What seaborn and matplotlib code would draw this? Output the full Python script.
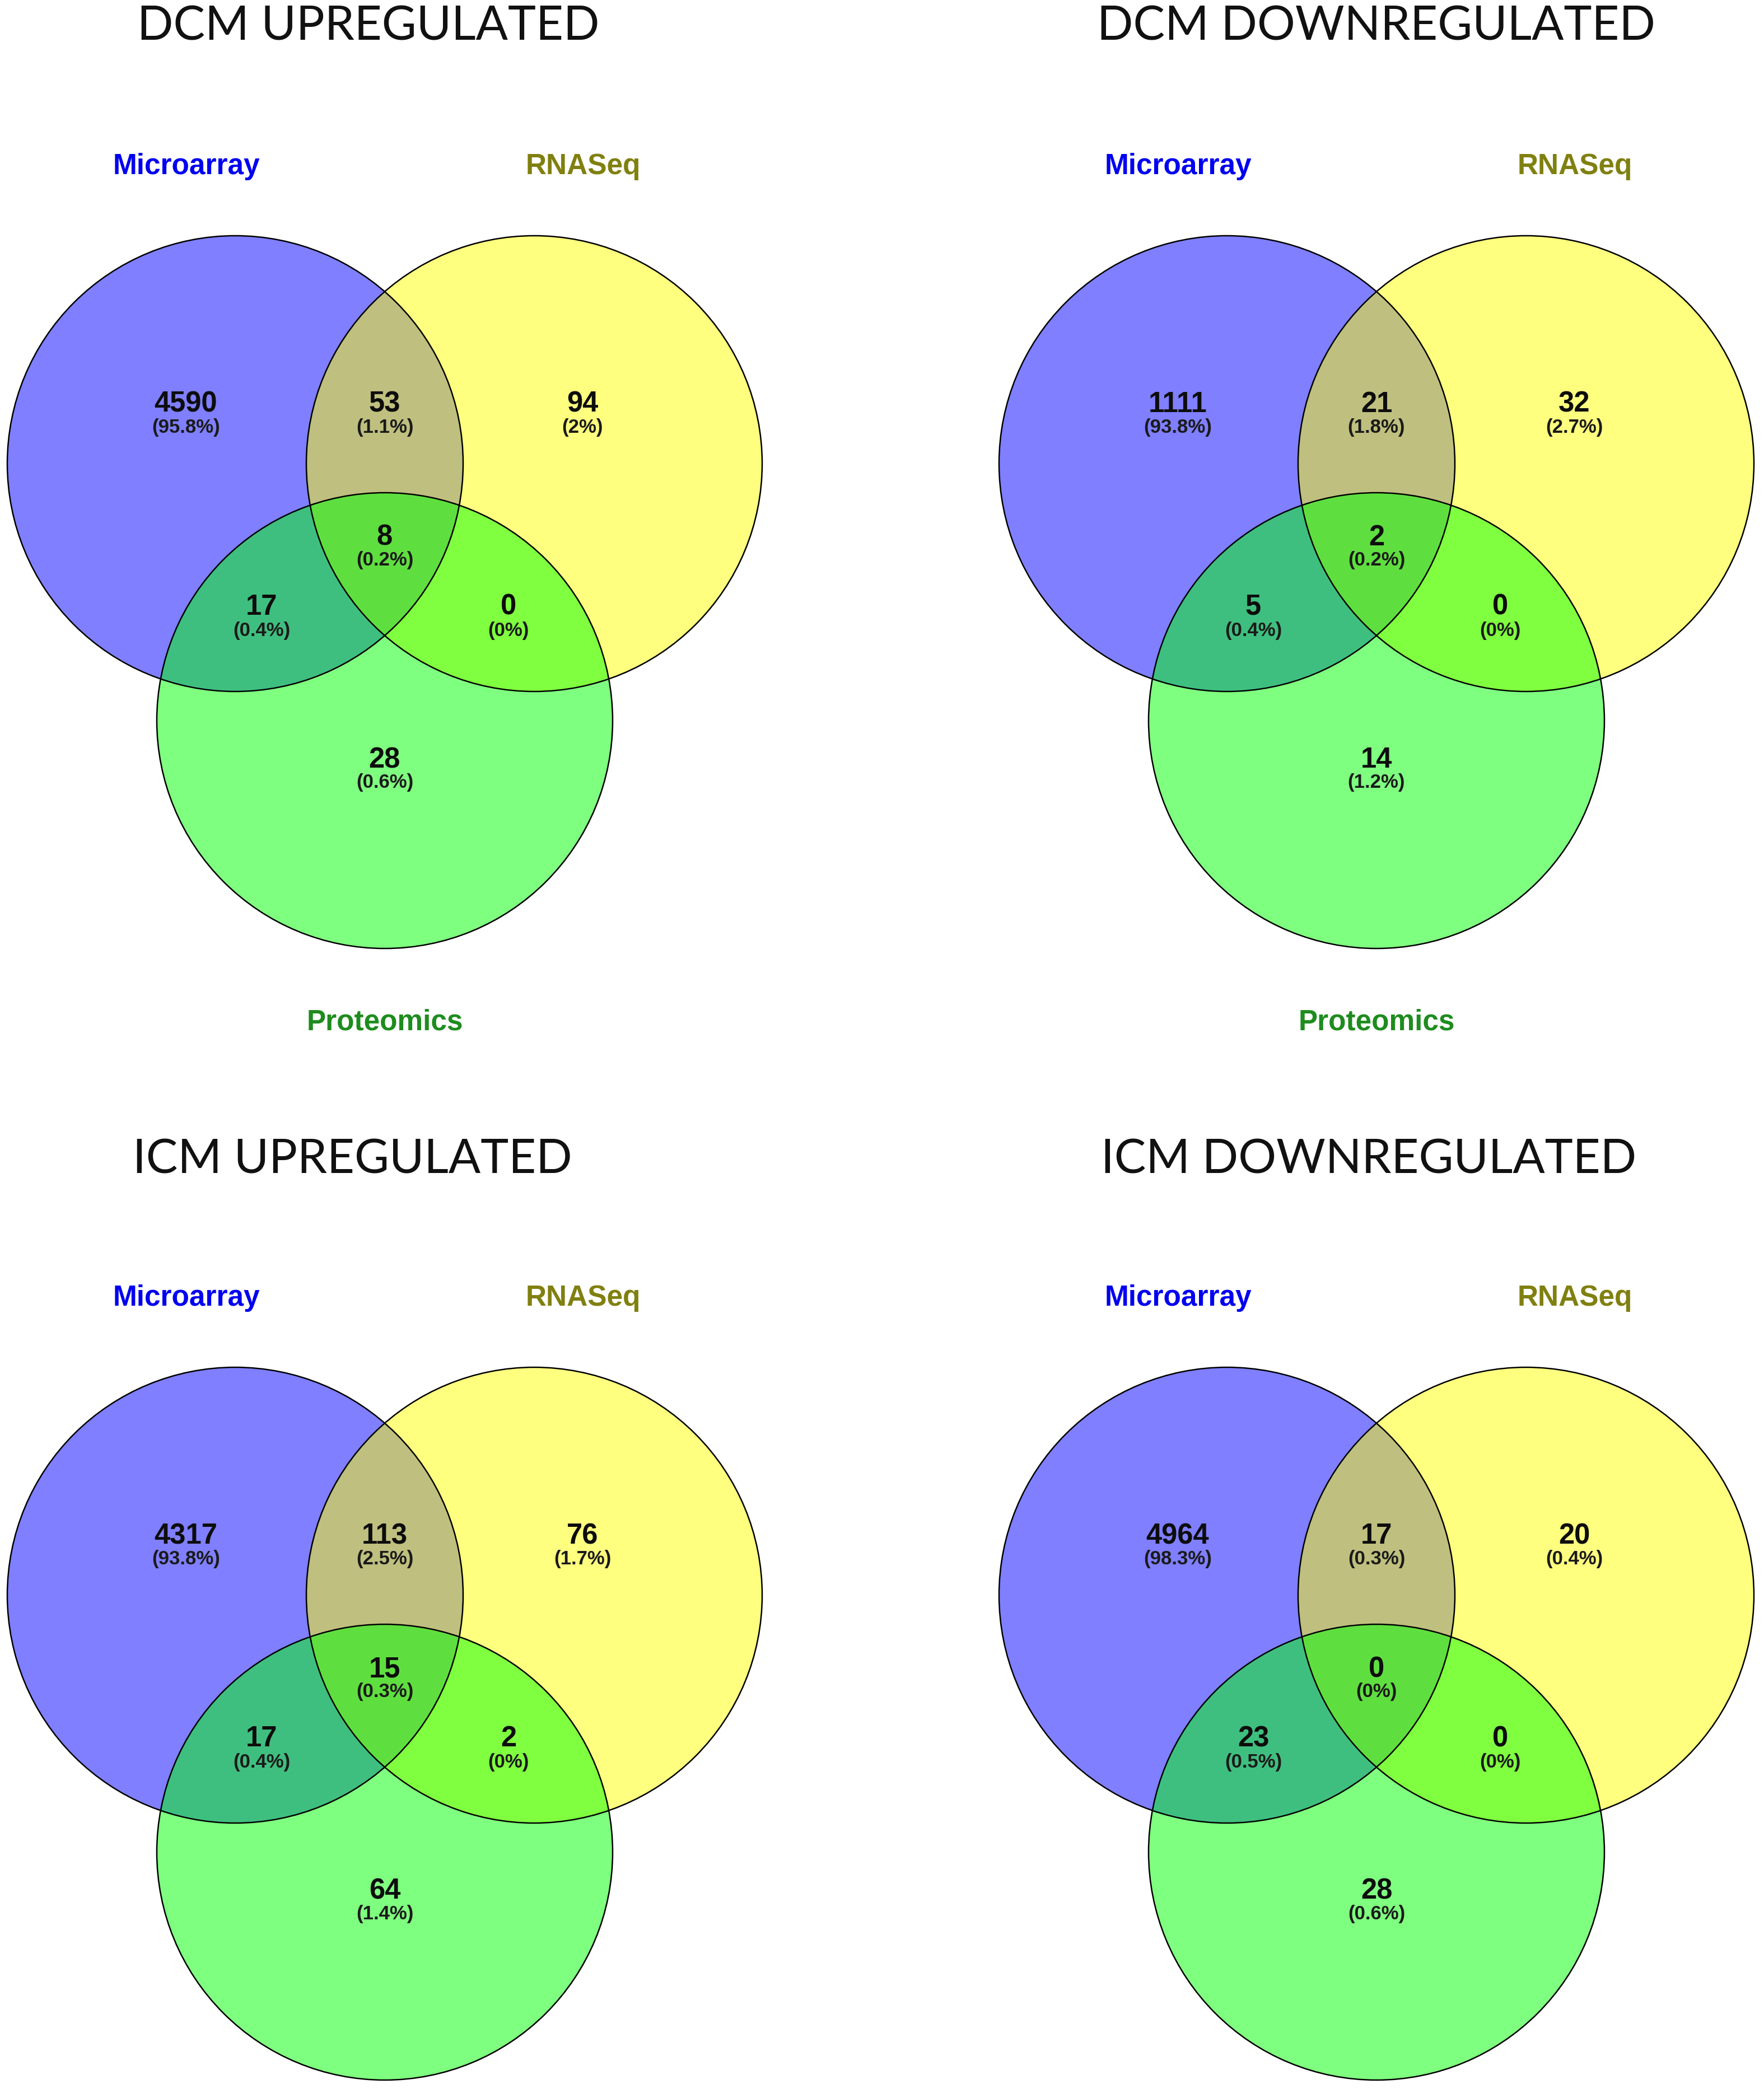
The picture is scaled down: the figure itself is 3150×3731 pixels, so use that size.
import matplotlib
matplotlib.use("Agg")
import matplotlib.pyplot as plt
from matplotlib.patches import Circle
import seaborn as sns

# ---------------- data ----------------
titles = ["DCM UPREGULATED", "DCM DOWNREGULATED", "ICM UPREGULATED", "ICM DOWNREGULATED"]
set_names = ["Microarray", "RNASeq", "Proteomics"]
# region order: A only, A&B, B only, A&B&C, A&C, B&C, C only
dcm_up_counts = [4590, 53, 94, 8, 17, 0, 28]
dcm_up_pcts = [95.8, 1.1, 2, 0.2, 0.4, 0, 0.6]
dcm_down_counts = [1111, 21, 32, 2, 5, 0, 14]
dcm_down_pcts = [93.8, 1.8, 2.7, 0.2, 0.4, 0, 1.2]
icm_up_counts = [4317, 113, 76, 15, 17, 2, 64]
icm_up_pcts = [93.8, 2.5, 1.7, 0.3, 0.4, 0, 1.4]
icm_down_counts = [4964, 17, 20, 0, 23, 0, 28]
icm_down_pcts = [98.3, 0.3, 0.4, 0, 0.5, 0, 0.6]

panels = [
    (titles[0], dcm_up_counts, dcm_up_pcts),
    (titles[1], dcm_down_counts, dcm_down_pcts),
    (titles[2], icm_up_counts, icm_up_pcts),
    (titles[3], icm_down_counts, icm_down_pcts),
]

# ---------------- style ----------------
sns.set_theme(style="white")
plt.rcParams["font.family"] = ["Liberation Sans", "DejaVu Sans"]

W, H = 3150, 3731
fig = plt.figure(figsize=(W / 100, H / 100), dpi=100)
ax = fig.add_axes([0, 0, 1, 1])
ax.set_xlim(0, W)
ax.set_ylim(H, 0)
ax.set_axis_off()

fill_colors = ["#0000FF", "#FFFF00", "#00FF00"]
label_colors = ["#0000F0", "#808010", "#1E8C1E"]

# layout (pixel units, relative to panel origin)
R = 407
centers = [(420, 828), (954, 828), (687, 1287)]
region_xy = [(332, 720, 764), (687, 720, 764), (1040, 720, 764),
             (687, 958, 1001), (467, 1082, 1127), (908, 1082, 1127),
             (687, 1355, 1398)]
name_xy = [(333, 311), (1041, 311), (687, 1840)]
offsets = [(0, 0), (1771, 0), (0, 2021), (1771, 2021)]
title_x = [245, 1959, 237, 1966]
title_base = [72, 72, 2095, 2095]

for i, (title, counts, pcts) in enumerate(panels):
    ox, oy = offsets[i]
    for (cx, cy), col in zip(centers, fill_colors):
        ax.add_patch(Circle((cx + ox, cy + oy), R, facecolor=col, alpha=0.5,
                            edgecolor="none", zorder=1))
    for (cx, cy) in centers:
        ax.add_patch(Circle((cx + ox, cy + oy), R, facecolor="none",
                            edgecolor="black", linewidth=1.8, zorder=2))
    for (x, yn, yp), c, p in zip(region_xy, counts, pcts):
        ax.text(x + ox, yn + oy + 16, f"{c}", ha="center", va="baseline",
                fontsize=36.5, fontweight="bold", color="#0d0d0d", zorder=3)
        ax.text(x + ox, yp + oy + 9, f"({p:g}%)", ha="center", va="baseline",
                fontsize=25, fontweight="bold", color="#1a1a1a", zorder=3)
    for (x, y), nm, col in zip(name_xy, set_names, label_colors):
        if y + oy < H:  # labels below the page edge are not shown
            ax.text(x + ox, y + oy, nm, ha="center", va="baseline", fontsize=37,
                    fontweight="bold", color=col, zorder=3)
    ax.text(title_x[i], title_base[i], title, ha="left", va="baseline",
            fontsize=61, family=["Lato", "DejaVu Sans"], color="#111111", zorder=3)

fig.savefig("out.png", dpi=100, facecolor="white")
